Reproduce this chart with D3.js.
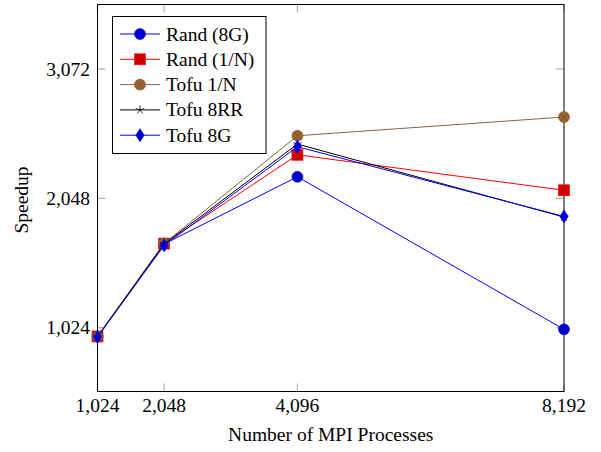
<!DOCTYPE html>
<html><head><meta charset="utf-8">
<script src="https://cdn.jsdelivr.net/npm/d3@7"></script>
</head><body style="margin:0">
<script>
const procs = [1024, 2048, 4096, 8192];
const seriesNames = ["Rand (8G)", "Rand (1/N)", "Tofu 1/N", "Tofu 8RR", "Tofu 8G"];
const rand8G   = [953, 1687, 2219, 1011];
const rand1N   = [955, 1690, 2393, 2112];
const tofu1N   = [955, 1692, 2544, 2692];
const tofu8RR  = [953, 1688, 2478, 1900];
const tofu8G   = [950, 1676, 2457, 1905];
const yTicks = [1024, 2048, 3072];
const xTicks = [1024, 2048, 4096, 8192];

const FONT = '"Liberation Serif", "Times New Roman", serif';
const FS = "19.5px";
const W = 601, H = 452;
const m = {l: 97.5, r: 564, t: 4.5, b: 391.5};
const svg = d3.select("body").append("svg").attr("width", W).attr("height", H).style("display", "block");

const x = d3.scaleLinear().domain([1024, 8192]).range([m.l, m.r]);
const y = d3.scaleLinear().domain([519, 3583]).range([m.b, m.t]);
const fmt = d3.format(",");

const series = [
  {name: seriesNames[0], vals: rand8G,  line: "#0000ff", fill: "#0000cc", mark: "circle"},
  {name: seriesNames[1], vals: rand1N,  line: "#ff0000", fill: "#cc0000", mark: "square"},
  {name: seriesNames[2], vals: tofu1N,  line: "#8c6239", fill: "#996633", mark: "otimes"},
  {name: seriesNames[3], vals: tofu8RR, line: "#000000", fill: "#000000", mark: "star"},
  {name: seriesNames[4], vals: tofu8G,  line: "#0000ff", fill: "#0000cc", mark: "diamond"}
];

// ticks (inside, both sides)
const tg = svg.append("g").attr("stroke", "#b0b0b0").attr("stroke-width", 1.2);
yTicks.forEach(v => {
  tg.append("line").attr("x1", m.l).attr("x2", m.l + 8).attr("y1", y(v)).attr("y2", y(v));
  tg.append("line").attr("x1", m.r - 8).attr("x2", m.r).attr("y1", y(v)).attr("y2", y(v));
});
xTicks.forEach(v => {
  tg.append("line").attr("x1", x(v)).attr("x2", x(v)).attr("y1", m.b).attr("y2", m.b - 8);
  tg.append("line").attr("x1", x(v)).attr("x2", x(v)).attr("y1", m.t).attr("y2", m.t + 8);
});

// axis frame
svg.append("rect").attr("x", m.l).attr("y", m.t).attr("width", m.r - m.l).attr("height", m.b - m.t)
  .attr("fill", "none").attr("stroke", "#000").attr("stroke-width", 1);

// tick labels
svg.append("g").selectAll("text").data(yTicks).join("text")
  .attr("x", 90).attr("y", d => y(d) + 6.5).attr("text-anchor", "end")
  .style("font-size", FS).style("font-family", FONT).text(d => fmt(d));
svg.append("g").selectAll("text").data(xTicks).join("text")
  .attr("x", d => x(d)).attr("y", 411.5).attr("text-anchor", "middle")
  .style("font-size", FS).style("font-family", FONT).text(d => fmt(d));

// axis titles
svg.append("text").attr("x", (m.l + m.r) / 2).attr("y", 440.5).attr("text-anchor", "middle")
  .style("font-size", FS).style("font-family", FONT).text("Number of MPI Processes");
svg.append("text").attr("transform", `translate(28,${(m.t + m.b) / 2 + 2}) rotate(-90)`)
  .attr("text-anchor", "middle").style("font-size", FS).style("font-family", FONT).text("Speedup");

function drawMark(g, s, cx, cy) {
  if (s.mark === "circle") {
    g.append("circle").attr("cx", cx).attr("cy", cy).attr("r", 5.5).attr("fill", s.fill).attr("stroke", s.line).attr("stroke-width", 0.6);
  } else if (s.mark === "square") {
    g.append("rect").attr("x", cx - 5.5).attr("y", cy - 5.5).attr("width", 11).attr("height", 11).attr("fill", s.fill).attr("stroke", s.line).attr("stroke-width", 0.6);
  } else if (s.mark === "otimes") {
    const r = 5.5;
    g.append("circle").attr("cx", cx).attr("cy", cy).attr("r", r).attr("fill", s.fill).attr("stroke", "#7a5228").attr("stroke-width", 0.6);
    const d = r * 0.707;
    g.append("path").attr("d", `M${cx-d},${cy-d}L${cx+d},${cy+d}M${cx-d},${cy+d}L${cx+d},${cy-d}`).attr("stroke", "#6b4520").attr("stroke-width", 0.6);
  } else if (s.mark === "star") {
    const r = 4.5;
    let p = "";
    for (let i = 0; i < 5; i++) {
      const a = -Math.PI / 2 + i * 2 * Math.PI / 5;
      p += `M${cx},${cy}L${cx + r * Math.cos(a)},${cy + r * Math.sin(a)}`;
    }
    g.append("path").attr("d", p).attr("stroke", "#000").attr("stroke-width", 0.8).attr("fill", "none");
  } else if (s.mark === "diamond") {
    const w = 4.2, h = 6.5;
    g.append("path").attr("d", `M${cx},${cy-h}L${cx+w},${cy}L${cx},${cy+h}L${cx-w},${cy}Z`).attr("fill", s.fill).attr("stroke", s.line).attr("stroke-width", 0.6);
  }
}

const line = d3.line().x((d, i) => x(procs[i])).y(d => y(d));
series.forEach(s => {
  const g = svg.append("g");
  g.append("path").datum(s.vals).attr("d", line).attr("fill", "none").attr("stroke", s.line).attr("stroke-width", 1);
  s.vals.forEach((v, i) => drawMark(g, s, x(procs[i]), y(v)));
});

// legend
const lg = svg.append("g");
lg.append("rect").attr("x", 112.5).attr("y", 16.5).attr("width", 153.5).attr("height", 137)
  .attr("fill", "#fff").attr("stroke", "#000").attr("stroke-width", 1);
series.forEach((s, i) => {
  const cy = 34 + i * 25.3;
  lg.append("line").attr("x1", 120).attr("x2", 160).attr("y1", cy).attr("y2", cy).attr("stroke", s.line).attr("stroke-width", 1);
  drawMark(lg, s, 140, cy);
  lg.append("text").attr("x", 166).attr("y", cy + 6.5).style("font-size", FS).style("font-family", FONT).text(s.name);
});
</script>
</body></html>
